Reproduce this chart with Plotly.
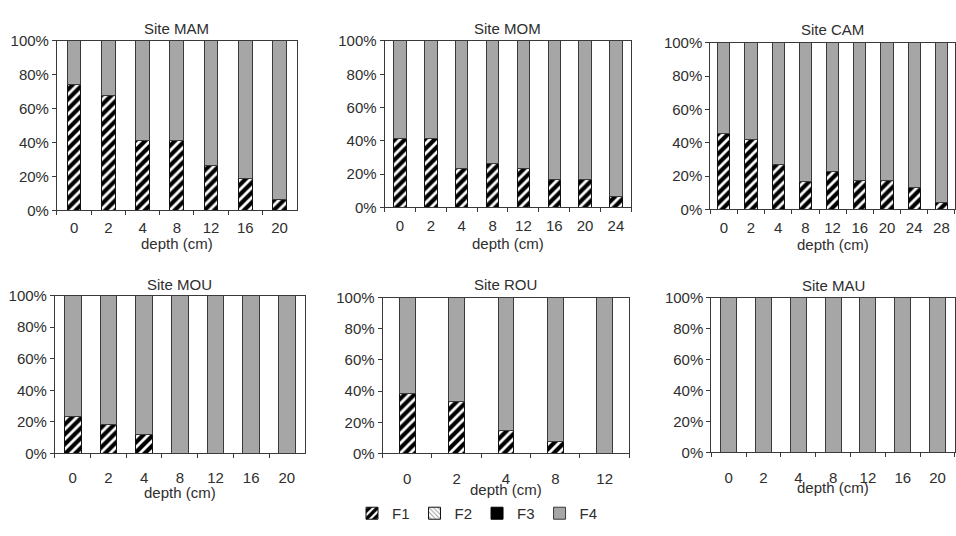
import plotly.graph_objects as go

W, H = 956, 536

# ---- data: fraction shares (%) per sampling depth ----
depth_mam = ["0", "2", "4", "8", "12", "16", "20"]
f1_mam = [74.3, 67.6, 41.3, 41.0, 26.7, 18.7, 6.7]
f4_mam = [25.7, 32.4, 58.7, 59.0, 73.3, 81.3, 93.3]

depth_mom = ["0", "2", "4", "8", "12", "16", "20", "24"]
f1_mom = [41.2, 41.7, 23.3, 26.2, 23.3, 16.9, 16.9, 6.4]
f4_mom = [58.8, 58.3, 76.7, 73.8, 76.7, 83.1, 83.1, 93.6]

depth_cam = ["0", "2", "4", "8", "12", "16", "20", "24", "28"]
f1_cam = [45.6, 42.1, 27.0, 16.5, 22.9, 17.3, 17.3, 13.0, 4.3]
f4_cam = [54.4, 57.9, 73.0, 83.5, 77.1, 82.7, 82.7, 87.0, 95.7]

depth_mou = ["0", "2", "4", "8", "12", "16", "20"]
f1_mou = [23.4, 18.3, 12.2, 0, 0, 0, 0]
f4_mou = [76.6, 81.7, 87.8, 100, 100, 100, 100]

depth_rou = ["0", "2", "4", "8", "12"]
f1_rou = [38.5, 33.1, 14.7, 7.5, 0]
f4_rou = [61.5, 66.9, 85.3, 92.5, 100]

depth_mau = ["0", "2", "4", "8", "12", "16", "20"]
f1_mau = [0, 0, 0, 0, 0, 0, 0]
f4_mau = [100, 100, 100, 100, 100, 100, 100]

site_names = ["Site MAM", "Site MOM", "Site CAM", "Site MOU", "Site ROU", "Site MAU"]
site_depths = [depth_mam, depth_mom, depth_cam, depth_mou, depth_rou, depth_mau]
site_f1 = [f1_mam, f1_mom, f1_cam, f1_mou, f1_rou, f1_mau]
site_f4 = [f4_mam, f4_mom, f4_cam, f4_mou, f4_rou, f4_mau]

y_ticks = [0, 20, 40, 60, 80, 100]
y_tick_labels = ["0%", "20%", "40%", "60%", "80%", "100%"]

# ---- layout geometry (pixels): plot-area boxes x0, x1, y0(top), y1(bottom) ----
boxes = [
    (57, 297, 33, 208),
    (385, 632, 33, 205),
    (711, 956, 35, 207),
    (55, 305, 296, 459),
    (383, 630, 298, 459),
    (712, 956, 298, 458),
]
bar_widths = [0.40, 0.40, 0.45, 0.47, 0.32, 0.46]
title_y = [20, 20, 21, 285, 285, 286]
xlabel_y = [242, 242, 243, 499, 496, 494]
tick_standoff = [4, 5, 5, 11, 12, 12]

GRAY = "#a6a6a6"
EDGE = "#3a3a3a"
TXT = "#2e2e2e"
FONT = "Liberation Sans, Arial, sans-serif"

fig = go.Figure()
annotations = []
layout_axes = {}

for i in range(6):
    n = i + 1
    xa = "x" if n == 1 else f"x{n}"
    ya = "y" if n == 1 else f"y{n}"
    cats = site_depths[i]
    zeros = [0] * len(cats)
    w = bar_widths[i]
    first = i == 0

    fig.add_trace(go.Bar(
        x=cats, y=site_f1[i], name="F1", xaxis=xa, yaxis=ya, width=w,
        marker=dict(color="white", line=dict(color="#111111", width=1),
                    pattern=dict(shape="/", fgcolor="#000000", bgcolor="white",
                                 fgopacity=1, size=7, solidity=0.6)),
        showlegend=first, legendgroup="F1",
    ))
    fig.add_trace(go.Bar(
        x=cats, y=zeros, name="F2", xaxis=xa, yaxis=ya, width=w,
        marker=dict(color="white", line=dict(color="#111111", width=1),
                    pattern=dict(shape="\\", fgcolor="#333333", bgcolor="white",
                                 size=4, solidity=0.3)),
        showlegend=first, legendgroup="F2",
    ))
    fig.add_trace(go.Bar(
        x=cats, y=zeros, name="F3", xaxis=xa, yaxis=ya, width=w,
        marker=dict(color="black", line=dict(color="black", width=1)),
        showlegend=first, legendgroup="F3",
    ))
    fig.add_trace(go.Bar(
        x=cats, y=site_f4[i], name="F4", xaxis=xa, yaxis=ya, width=w,
        marker=dict(color=GRAY, line=dict(color=EDGE, width=1)),
        showlegend=first, legendgroup="F4",
    ))

    x0, x1, y0, y1 = boxes[i]
    layout_axes["xaxis" if n == 1 else f"xaxis{n}"] = dict(
        domain=[x0 / W, x1 / W], anchor=ya, type="category",
        categoryorder="array", categoryarray=cats,
        showline=True, linecolor=EDGE, linewidth=1, mirror=True,
        ticks="outside", ticklen=4, tickcolor=EDGE, tickson="boundaries",
        ticklabelstandoff=tick_standoff[i],
        tickfont=dict(size=15, color=TXT, family=FONT),
        showgrid=False, zeroline=False, fixedrange=True,
    )
    layout_axes["yaxis" if n == 1 else f"yaxis{n}"] = dict(
        domain=[1 - y1 / H, 1 - y0 / H], anchor=xa, range=[0, 100],
        tickmode="array", tickvals=y_ticks, ticktext=y_tick_labels,
        showline=True, linecolor=EDGE, linewidth=1, mirror=True,
        ticks="outside", ticklen=4, tickcolor=EDGE,
        tickfont=dict(size=15, color=TXT, family=FONT),
        showgrid=False, zeroline=False, fixedrange=True,
    )

    cx = (x0 + x1) / 2 / W
    annotations.append(dict(
        text=site_names[i], x=cx, y=1 - title_y[i] / H, xref="paper", yref="paper",
        xanchor="center", yanchor="middle", showarrow=False,
        font=dict(size=15, color=TXT, family=FONT),
    ))
    annotations.append(dict(
        text="depth (cm)", x=cx, y=1 - xlabel_y[i] / H, xref="paper", yref="paper",
        xanchor="center", yanchor="middle", showarrow=False,
        font=dict(size=15, color=TXT, family=FONT),
    ))

fig.update_layout(
    width=W, height=H,
    margin=dict(l=0, r=0, t=0, b=0),
    paper_bgcolor="white", plot_bgcolor="white",
    barmode="stack",
    font=dict(family=FONT, color=TXT, size=14),
    showlegend=True,
    legend=dict(orientation="h", x=0.5, xanchor="center",
                y=1 - 521 / H, yanchor="middle",
                font=dict(size=15, color=TXT, family=FONT),
                itemwidth=30, tracegroupgap=0, bgcolor="rgba(0,0,0,0)"),
    annotations=annotations,
    **layout_axes,
)

fig.write_html("out.html")
